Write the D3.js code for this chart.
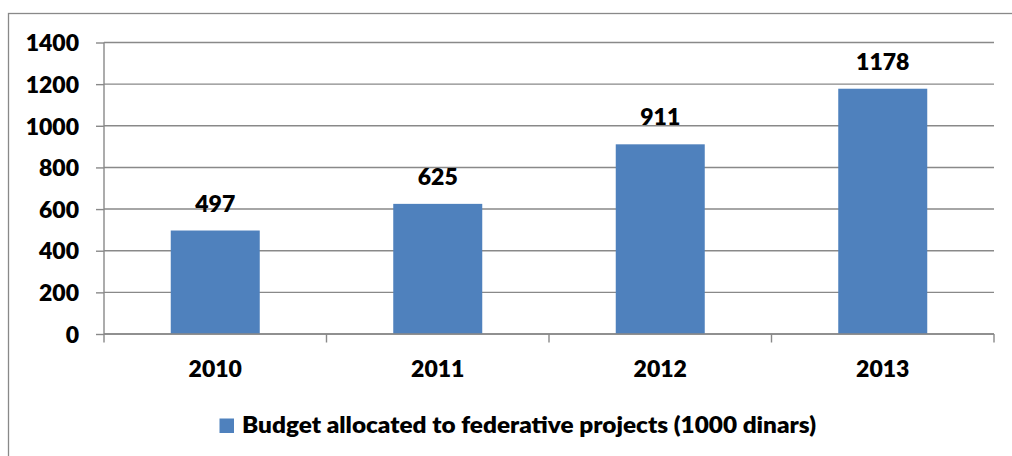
<!DOCTYPE html>
<html>
<head>
<meta charset="utf-8">
<script src="https://cdn.jsdelivr.net/npm/d3@7"></script>
<style>
  html, body { margin: 0; padding: 0; background: #fff; }
  svg { display: block; }
  text { font-family: Lato, "Open Sans", sans-serif; font-weight: 800; fill: #000; }
</style>
</head>
<body>
<svg id="chart" width="1012" height="456"></svg>
<script>
// Budget per year (thousands of dinars)
const years = ["2010", "2011", "2012", "2013"];
const budget = [497, 625, 911, 1178];
const yTicks = [0, 200, 400, 600, 800, 1000, 1200, 1400];
const seriesName = "Budget allocated to federative projects (1000 dinars)";

const W = 1012, H = 456;
const plot = { left: 104, right: 994, top: 42.5, bottom: 334 };
const barColor = "#4F81BD";
const lineColor = "#898989";
const fontSize = 23;

const svg = d3.select("#chart");

// outer chart frame
svg.append("rect")
  .attr("x", 8.5).attr("y", 13.5)
  .attr("width", W + 10).attr("height", H + 10)
  .attr("fill", "none").attr("stroke", lineColor).attr("stroke-width", 1.3);

const x = d3.scaleBand()
  .domain(years)
  .range([plot.left, plot.right])
  .paddingInner(0.6)
  .paddingOuter(0.3);

const y = d3.scaleLinear()
  .domain([0, 1400])
  .range([plot.bottom, plot.top]);

// horizontal gridlines
svg.append("g")
  .selectAll("line")
  .data(yTicks)
  .join("line")
  .attr("x1", plot.left).attr("x2", plot.right)
  .attr("y1", d => y(d)).attr("y2", d => y(d))
  .attr("stroke", lineColor).attr("stroke-width", 1.4);

// y axis with outward ticks
const yAxis = svg.append("g")
  .attr("transform", `translate(${plot.left},0)`)
  .call(d3.axisLeft(y).tickValues(yTicks).tickFormat(d3.format("d"))
    .tickSize(8).tickPadding(17).tickSizeOuter(0));
yAxis.select(".domain").remove();
yAxis.selectAll(".tick line").attr("stroke", lineColor).attr("stroke-width", 1.4);
yAxis.selectAll(".tick text")
  .attr("font-family", null).attr("font-size", fontSize)
  .attr("dy", "0.36em").style("fill", "#000");
// vertical axis line, running down past the baseline like the category ticks
svg.append("line")
  .attr("x1", plot.left).attr("x2", plot.left)
  .attr("y1", plot.top).attr("y2", plot.bottom + 8.5)
  .attr("stroke", lineColor).attr("stroke-width", 1.4);

// bars
svg.append("g")
  .selectAll("rect")
  .data(years)
  .join("rect")
  .attr("x", d => x(d))
  .attr("width", x.bandwidth())
  .attr("y", (d, i) => y(budget[i]))
  .attr("height", (d, i) => y(0) - y(budget[i]))
  .attr("fill", barColor);

// x axis baseline and category boundary ticks
svg.append("line")
  .attr("x1", plot.left).attr("x2", plot.right)
  .attr("y1", plot.bottom).attr("y2", plot.bottom)
  .attr("stroke", lineColor).attr("stroke-width", 1.4);
const step = x.step();
const bounds = d3.range(years.length + 1).map(i => plot.left + i * step);
svg.append("g")
  .selectAll("line")
  .data(bounds.slice(1))
  .join("line")
  .attr("x1", d => d).attr("x2", d => d)
  .attr("y1", plot.bottom).attr("y2", plot.bottom + 8.5)
  .attr("stroke", lineColor).attr("stroke-width", 1.4);

// category labels
const xAxis = svg.append("g")
  .attr("transform", `translate(0,${plot.bottom})`)
  .call(d3.axisBottom(x).tickSize(0).tickPadding(0));
xAxis.select(".domain").remove();
xAxis.selectAll(".tick text")
  .attr("font-family", null).attr("font-size", fontSize)
  .attr("y", 42.5).attr("dy", null).style("fill", "#000");

// value labels above the bars
svg.append("g")
  .selectAll("text")
  .data(years)
  .join("text")
  .attr("x", d => x(d) + x.bandwidth() / 2)
  .attr("y", (d, i) => y(budget[i]) - 19)
  .attr("text-anchor", "middle")
  .attr("font-size", fontSize)
  .text((d, i) => budget[i]);

// legend
const legend = svg.append("g");
legend.append("rect")
  .attr("x", 219.5).attr("y", 418.5)
  .attr("width", 14.5).attr("height", 14.5)
  .attr("fill", barColor);
legend.append("text")
  .attr("x", 242).attr("y", 432.7)
  .attr("font-size", fontSize)
  .attr("textLength", 574)
  .attr("lengthAdjust", "spacingAndGlyphs")
  .text(seriesName);
</script>
</body>
</html>
